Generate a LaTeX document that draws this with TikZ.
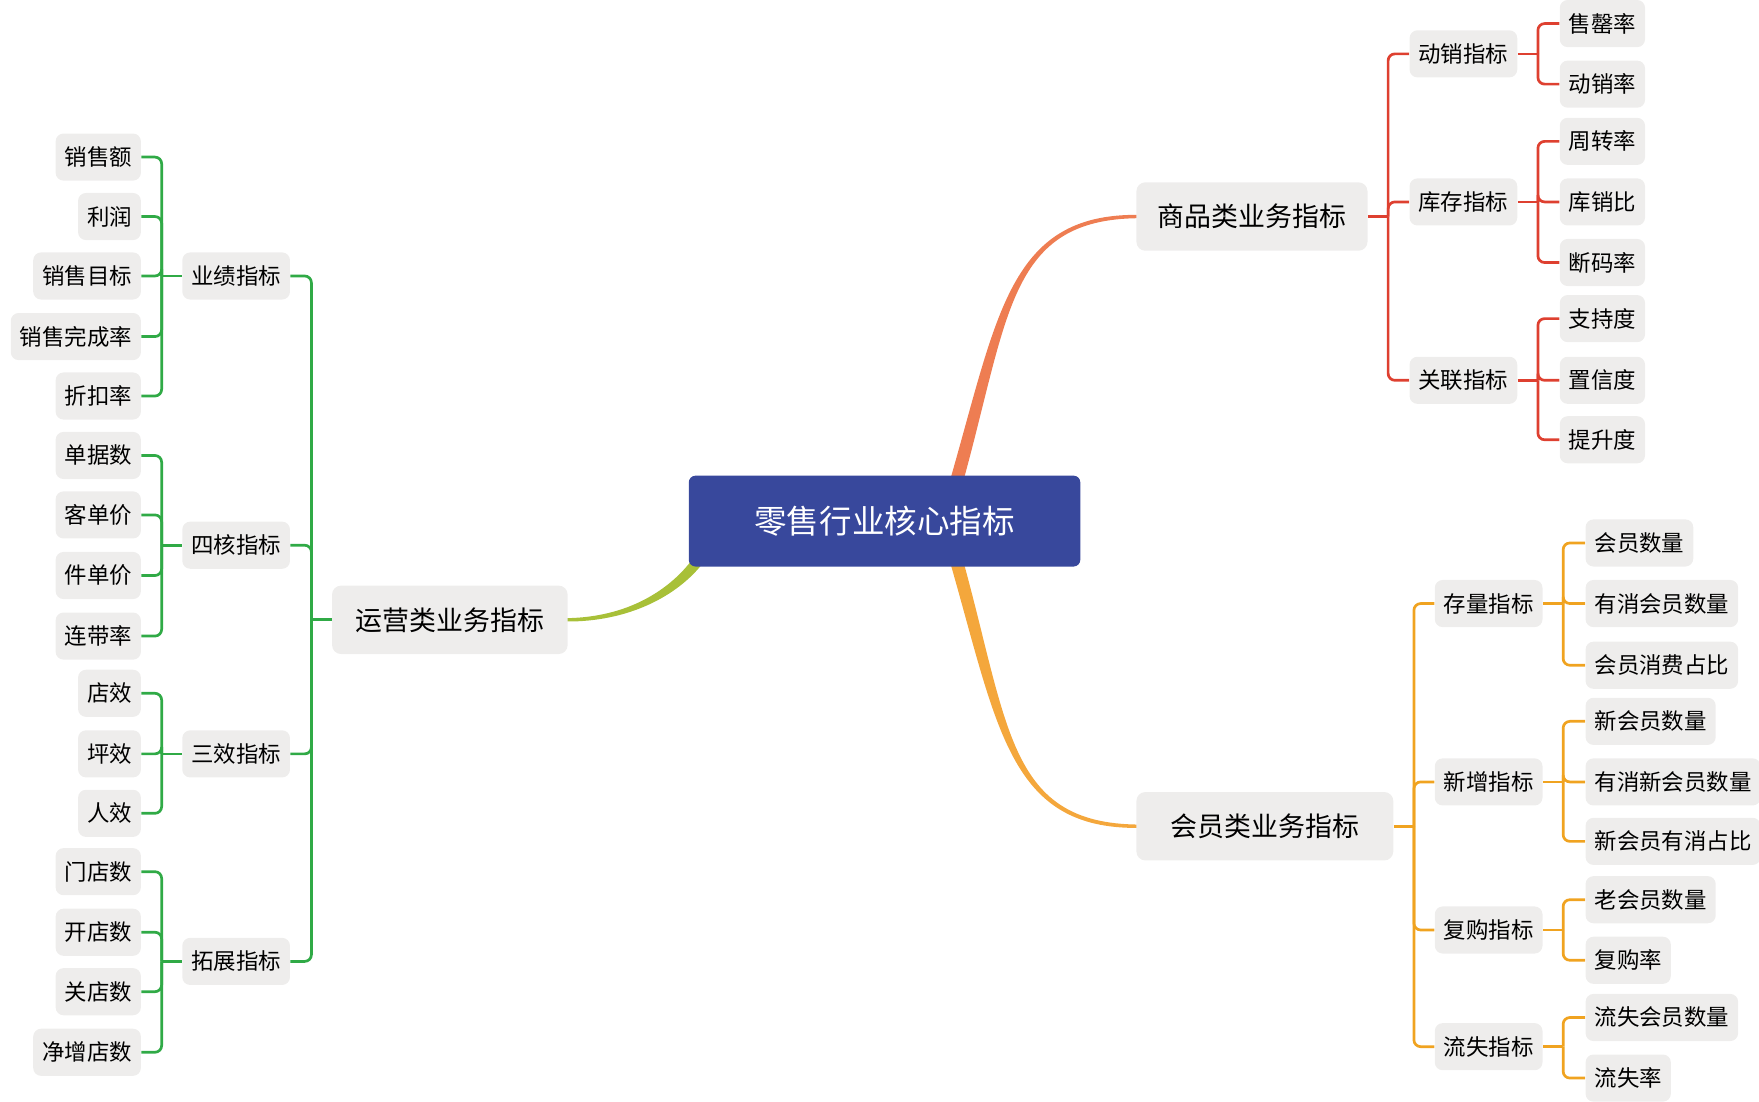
\documentclass[tikz,border=0pt]{standalone}
\usepackage{fontspec}
\setmainfont{Noto Sans CJK SC}
\usepackage{tikz}
\usetikzlibrary{calc}
\pgfdeclarelayer{edgelayer}
\pgfdeclarelayer{nodelayer}
\pgfsetlayers{edgelayer,main,nodelayer}
\definecolor{boxgray}{RGB}{238,237,236}
\definecolor{hubblue}{RGB}{56,72,156}
\definecolor{opsline}{RGB}{48,170,70}
\definecolor{goodsline}{RGB}{222,64,48}
\definecolor{memberline}{RGB}{240,163,32}
\definecolor{goodsc}{RGB}{238,125,82}
\definecolor{memberc}{RGB}{244,167,60}
\definecolor{opsc}{RGB}{168,192,56}

\begin{document}
\begin{tikzpicture}[x=0.5pt, y=-0.5pt, thick,
	leaf/.style={fill=boxgray, rounded corners=3.5pt, font=\fontsize{10}{12}\selectfont, inner xsep=4pt, inner ysep=0pt, minimum height=21pt},
	topic/.style={fill=boxgray, rounded corners=4pt, font=\fontsize{12}{14}\selectfont, inner sep=0pt, minimum height=30.5pt},
	hubbox/.style={fill=hubblue, text=white, rounded corners=3pt, font=\fontsize{14.5}{17}\selectfont, inner sep=0pt, minimum width=174.5pt, minimum height=40.5pt},
	gline/.style={draw=opsline, line width=1.2pt, rounded corners=3pt},
	rline/.style={draw=goodsline, line width=1.2pt, rounded corners=3pt},
	oline/.style={draw=memberline, line width=1.2pt, rounded corners=3pt}]
	\useasboundingbox (0, 0) rectangle (1568, 982.3);
	\begin{pgfonlayer}{nodelayer}
		\node [hubbox] (0) at (788.5, 464.5) {零售行业核心指标};
		\node [topic, minimum width=103pt] (1) at (1116, 193) {商品类业务指标};
		\node [topic, minimum width=114.5pt] (2) at (1127.5, 736.5) {会员类业务指标};
		\node [topic, minimum width=105pt] (3) at (401, 552.5) {运营类业务指标};
		% left side
		\node [leaf] (4) at (210.5, 246) {业绩指标};
		\node [leaf] (5) at (210.5, 486) {四核指标};
		\node [leaf] (6) at (210.5, 672) {三效指标};
		\node [leaf] (7) at (210.5, 857) {拓展指标};
		\node [leaf, anchor=east] (8) at (126, 140) {销售额};
		\node [leaf, anchor=east] (9) at (126, 193) {利润};
		\node [leaf, anchor=east] (10) at (126, 246) {销售目标};
		\node [leaf, anchor=east] (11) at (126, 300) {销售完成率};
		\node [leaf, anchor=east] (12) at (126, 353) {折扣率};
		\node [leaf, anchor=east] (13) at (126, 406) {单据数};
		\node [leaf, anchor=east] (14) at (126, 459) {客单价};
		\node [leaf, anchor=east] (15) at (126, 513) {件单价};
		\node [leaf, anchor=east] (16) at (126, 567) {连带率};
		\node [leaf, anchor=east] (17) at (126, 618) {店效};
		\node [leaf, anchor=east] (18) at (126, 672) {坪效};
		\node [leaf, anchor=east] (19) at (126, 725) {人效};
		\node [leaf, anchor=east] (20) at (126, 777) {门店数};
		\node [leaf, anchor=east] (21) at (126, 831) {开店数};
		\node [leaf, anchor=east] (22) at (126, 884) {关店数};
		\node [leaf, anchor=east] (23) at (126, 938) {净增店数};
		% right top
		\node [leaf] (24) at (1304.5, 48) {动销指标};
		\node [leaf] (25) at (1304.5, 180) {库存指标};
		\node [leaf] (26) at (1304.5, 339) {关联指标};
		\node [leaf, anchor=west] (27) at (1390, 21) {售罄率};
		\node [leaf, anchor=west] (28) at (1390, 75) {动销率};
		\node [leaf, anchor=west] (29) at (1390, 126) {周转率};
		\node [leaf, anchor=west] (30) at (1390, 180) {库销比};
		\node [leaf, anchor=west] (31) at (1390, 234) {断码率};
		\node [leaf, anchor=west] (32) at (1390, 284) {支持度};
		\node [leaf, anchor=west] (33) at (1390, 339) {置信度};
		\node [leaf, anchor=west] (34) at (1390, 392) {提升度};
		% right bottom
		\node [leaf] (35) at (1327, 538) {存量指标};
		\node [leaf] (36) at (1327, 697) {新增指标};
		\node [leaf] (37) at (1327, 829) {复购指标};
		\node [leaf] (38) at (1327, 933) {流失指标};
		\node [leaf, anchor=west] (39) at (1413, 484) {会员数量};
		\node [leaf, anchor=west] (40) at (1413, 538) {有消会员数量};
		\node [leaf, anchor=west] (41) at (1413, 593) {会员消费占比};
		\node [leaf, anchor=west] (42) at (1413, 643) {新会员数量};
		\node [leaf, anchor=west] (43) at (1413, 697) {有消新会员数量};
		\node [leaf, anchor=west] (44) at (1413, 750) {新会员有消占比};
		\node [leaf, anchor=west] (45) at (1413, 802) {老会员数量};
		\node [leaf, anchor=west] (46) at (1413, 856) {复购率};
		\node [leaf, anchor=west] (47) at (1413, 907) {流失会员数量};
		\node [leaf, anchor=west] (48) at (1413, 961) {流失率};
	\end{pgfonlayer}
	% junctions
	\coordinate (49) at ($(3.west)+(-18,0)$);
	\coordinate (50) at ($(4.west)+(-18,0)$);
	\coordinate (51) at ($(5.west)+(-18,0)$);
	\coordinate (52) at ($(6.west)+(-18,0)$);
	\coordinate (53) at ($(7.west)+(-18,0)$);
	\coordinate (54) at ($(1.east)+(18,0)$);
	\coordinate (55) at ($(24.east)+(18,0)$);
	\coordinate (56) at ($(25.east)+(18,0)$);
	\coordinate (57) at ($(26.east)+(18,0)$);
	\coordinate (58) at ($(2.east)+(18,0)$);
	\coordinate (59) at ($(35.east)+(18,0)$);
	\coordinate (60) at ($(36.east)+(18,0)$);
	\coordinate (61) at ($(37.east)+(18,0)$);
	\coordinate (62) at ($(38.east)+(18,0)$);
	\begin{pgfonlayer}{edgelayer}
		% main branches
		\fill [goodsc] ($(0.north)+(58.5,4)$) .. controls ($(1.west)+(-123,87)$) and ($(1.west)+(-113,-2.5)$) .. ($(1.west)+(2,-1.5)$) -- ($(1.west)+(2,1.5)$) .. controls ($(1.west)+(-113,2.5)$) and ($(1.west)+(-113,87)$) .. ($(0.north)+(70.5,4)$) -- cycle;
		\fill [memberc] ($(0.south)+(58.5,-4)$) .. controls ($(2.west)+(-123,-87)$) and ($(2.west)+(-113,2.5)$) .. ($(2.west)+(2,1.5)$) -- ($(2.west)+(2,-1.5)$) .. controls ($(2.west)+(-113,-2.5)$) and ($(2.west)+(-113,-87)$) .. ($(0.south)+(70.5,-4)$) -- cycle;
		\fill [opsc] ($(0.south)+(-173.5,-4)$) .. controls ($(3.east)+(90,-27.5)$) and ($(3.east)+(54,-2)$) .. ($(3.east)+(-2,-1.5)$) -- ($(3.east)+(-2,1.5)$) .. controls ($(3.east)+(54,2)$) and ($(3.east)+(98,-21.5)$) .. ($(0.south)+(-161.5,-4)$) -- cycle;
		% left
		\draw [gline] (49) -- (3.west);
		\draw [gline] (4.east) -| (49);
		\draw [gline] (5.east) -| (49);
		\draw [gline] (6.east) -| (49);
		\draw [gline] (7.east) -| (49);
		\draw [gline] (50) -- (4.west);
		\draw [gline] (8.east) -| (50);
		\draw [gline] (9.east) -| (50);
		\draw [gline] (10.east) -| (50);
		\draw [gline] (11.east) -| (50);
		\draw [gline] (12.east) -| (50);
		\draw [gline] (51) -- (5.west);
		\draw [gline] (13.east) -| (51);
		\draw [gline] (14.east) -| (51);
		\draw [gline] (15.east) -| (51);
		\draw [gline] (16.east) -| (51);
		\draw [gline] (52) -- (6.west);
		\draw [gline] (17.east) -| (52);
		\draw [gline] (18.east) -| (52);
		\draw [gline] (19.east) -| (52);
		\draw [gline] (53) -- (7.west);
		\draw [gline] (20.east) -| (53);
		\draw [gline] (21.east) -| (53);
		\draw [gline] (22.east) -| (53);
		\draw [gline] (23.east) -| (53);
		% right top
		\draw [rline] (1.east) -- (54);
		\draw [rline] (54) |- (24.west);
		\draw [rline] (54) |- (25.west);
		\draw [rline] (54) |- (26.west);
		\draw [rline] (24.east) -- (55);
		\draw [rline] (55) |- (27.west);
		\draw [rline] (55) |- (28.west);
		\draw [rline] (25.east) -- (56);
		\draw [rline] (56) |- (29.west);
		\draw [rline] (56) |- (30.west);
		\draw [rline] (56) |- (31.west);
		\draw [rline] (26.east) -- (57);
		\draw [rline] (57) |- (32.west);
		\draw [rline] (57) |- (33.west);
		\draw [rline] (57) |- (34.west);
		% right bottom
		\draw [oline] (2.east) -- (58);
		\draw [oline] (58) |- (35.west);
		\draw [oline] (58) |- (36.west);
		\draw [oline] (58) |- (37.west);
		\draw [oline] (58) |- (38.west);
		\draw [oline] (35.east) -- (59);
		\draw [oline] (59) |- (39.west);
		\draw [oline] (59) |- (40.west);
		\draw [oline] (59) |- (41.west);
		\draw [oline] (36.east) -- (60);
		\draw [oline] (60) |- (42.west);
		\draw [oline] (60) |- (43.west);
		\draw [oline] (60) |- (44.west);
		\draw [oline] (37.east) -- (61);
		\draw [oline] (61) |- (45.west);
		\draw [oline] (61) |- (46.west);
		\draw [oline] (38.east) -- (62);
		\draw [oline] (62) |- (47.west);
		\draw [oline] (62) |- (48.west);
	\end{pgfonlayer}
\end{tikzpicture}
\end{document}
